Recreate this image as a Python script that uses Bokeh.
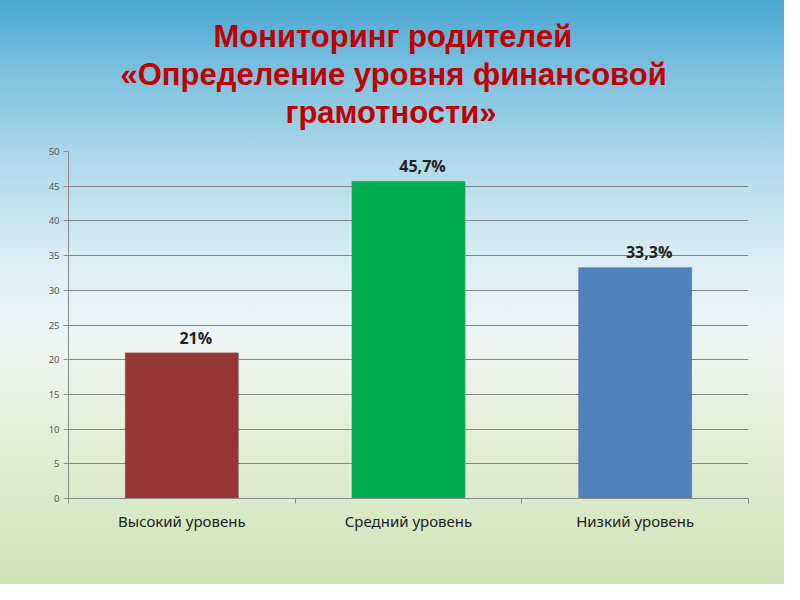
from bokeh.plotting import figure
from bokeh.models import ColumnDataSource, FixedTicker, Range1d, LabelSet, Title
from bokeh.core.properties import value
from bokeh.embed import file_html
from bokeh.resources import INLINE

title_lines = ["Мониторинг родителей", "«Определение уровня финансовой", "грамотности»"]
categories = ["Высокий уровень", "Средний уровень", "Низкий уровень"]
values = [21.0, 45.7, 33.3]
value_labels = ["21%", "45,7%", "33,3%"]
bar_colors = ["#953735", "#00B050", "#4F81BD"]
y_ticks = [0, 5, 10, 15, 20, 25, 30, 35, 40, 45, 50]

# horizontal placement of each title line (pixels from the plot area's left edge)
title_offsets = [145, 52, 217]

xs = [i + 0.5 for i in range(len(categories))]
src = ColumnDataSource(dict(x=xs, top=values, lab=value_labels, color=bar_colors))

p = figure(width=784, height=584, output_backend="svg", toolbar_location=None, title=None,
           x_range=Range1d(0, len(categories)), y_range=Range1d(0, 50),
           min_border_left=68, min_border_right=36, min_border_bottom=86, min_border_top=151)

p.styles = {"background": "linear-gradient(to bottom, #49A6D0 0%, #7BC0DF 12%, #B0D9EA 28%, #DCEEF5 45%, #EEF6F5 58%, #E5F0DA 72%, #D9E9C6 88%, #CFE3B8 100%)"}
p.border_fill_alpha = 0
p.background_fill_alpha = 0
p.outline_line_color = None

# spacer between frame and title block
p.add_layout(Title(text=" ", text_font_size="17px", standoff=0), "above")
for line, off in reversed(list(zip(title_lines, title_offsets))):
    t = Title(text=line, align="left", text_font="Liberation Sans", text_font_size="31px",
              text_font_style="bold", text_color="#C00000", offset=off, standoff=1)
    p.add_layout(t, "above")

p.vbar(x="x", top="top", width=0.5, bottom=0, color="color", line_color="#7a7a7a",
       line_alpha=0.3, source=src)

labels = LabelSet(x="x", y="top", text="lab", source=src, text_align="center",
                  text_baseline="bottom", y_offset=4, x_offset=14,
                  text_font=value("Open Sans"), text_font_size=value("16px"),
                  text_font_style="bold", text_color="#222222")
p.add_layout(labels)

# y axis
p.yaxis.ticker = FixedTicker(ticks=y_ticks)
p.yaxis.axis_line_color = "#8a8a8a"
p.yaxis.major_tick_line_color = "#8a8a8a"
p.yaxis.major_tick_out = 5
p.yaxis.major_tick_in = 0
p.yaxis.minor_tick_line_color = None
p.yaxis.major_label_text_font = "Noto Sans"
p.yaxis.major_label_text_font_size = "9.5px"
p.yaxis.major_label_text_color = "#555555"
p.yaxis.major_label_standoff = 4

# x axis
p.xaxis.ticker = FixedTicker(ticks=xs, minor_ticks=list(range(len(categories) + 1)))
p.xaxis.major_label_overrides = {x: c for x, c in zip(xs, categories)}
p.xaxis.axis_line_color = "#8a8a8a"
p.xaxis.major_tick_line_color = None
p.xaxis.minor_tick_line_color = "#8a8a8a"
p.xaxis.minor_tick_out = 5
p.xaxis.minor_tick_in = 0
p.xaxis.major_label_text_font = "Noto Sans"
p.xaxis.major_label_text_font_size = "15px"
p.xaxis.major_label_text_color = "#222222"
p.xaxis.major_label_standoff = 6

p.xgrid.grid_line_color = None
p.ygrid.grid_line_color = "#858585"
p.ygrid.grid_line_width = 1
p.ygrid.ticker = FixedTicker(ticks=y_ticks)

open("out.html", "w").write(file_html(p, INLINE))
